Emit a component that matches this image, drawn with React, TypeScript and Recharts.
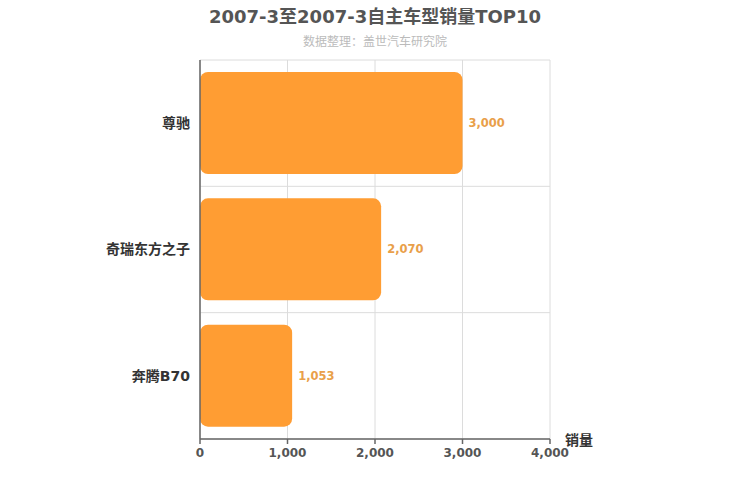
import React from 'react';
import { Bar, BarChart, CartesianGrid, LabelList, XAxis, YAxis, Label } from 'recharts';

const models = ['尊驰', '奇瑞东方之子', '奔腾B70'];
const sales = [3000, 2070, 1053];
const xTicks = [0, 1000, 2000, 3000, 4000];
const bandEdges = [0, 1, 2, 3];

const data = models.map((name, i) => ({ name, value: sales[i] }));

const font = '"DejaVu Sans", "Noto Sans CJK SC", sans-serif';
const fmt = (v: number) => v.toLocaleString('en-US');

export default function App() {
  return (
    <div style={{ position: 'absolute', left: 0, top: 0, width: 750, height: 500, background: '#fff', fontFamily: font }}>
      <div style={{ position: 'absolute', top: 2, width: 750, textAlign: 'center', fontSize: 18, fontWeight: 'bold', color: '#555' }}>
        2007-3至2007-3自主车型销量TOP10
      </div>
      <div style={{ position: 'absolute', top: 32, width: 750, textAlign: 'center', fontSize: 12, color: '#bbb' }}>
        数据整理：盖世汽车研究院
      </div>
      <BarChart
        width={750}
        height={500}
        data={data}
        layout="vertical"
        barCategoryGap="9.5%"
        margin={{ top: 60, right: 200, left: 49, bottom: 31 }}
      >
        <CartesianGrid
          yAxisId="names"
          stroke="#dcdcdc"
          horizontalCoordinatesGenerator={({ offset }: any) =>
            bandEdges.map((e) => offset.top + (offset.height * e) / (bandEdges.length - 1))
          }
        />
        {/* boundary ticks + axis line, default id so it sits against the plot */}
        <YAxis
          type="number"
          domain={[0, 3]}
          ticks={bandEdges}
          width={1}
          tick={false}
          tickSize={5}
          stroke="#666"
          strokeWidth={1.5}
        />
        <YAxis
          yAxisId="names"
          type="category"
          dataKey="name"
          width={150}
          axisLine={false}
          tickLine={false}
          tickMargin={3}
          tick={{ fill: '#333', fontSize: 14, fontWeight: 'bold', fontFamily: font }}
        />
        <Bar yAxisId="names" dataKey="value" fill="#FF9D33" radius={8} isAnimationActive={false}>
          <LabelList
            dataKey="value"
            position="right"
            offset={6}
            formatter={(v: any) => fmt(Number(v))}
            style={{ fill: '#E9A04A', fontSize: 11.5, fontWeight: 'bold', fontFamily: font }}
          />
        </Bar>
        <XAxis
          type="number"
          domain={[0, 4000]}
          ticks={xTicks}
          tickFormatter={fmt}
          stroke="#666"
          strokeWidth={1.5}
          tickSize={5}
          tickMargin={4}
          height={30}
          tick={{ fill: '#555', fontSize: 12, fontWeight: 'bold', fontFamily: font }}
        >
          <Label
            value="销量"
            position="right"
            offset={15}
            dy={-14}
            style={{ fill: '#333', fontSize: 14, fontWeight: 'bold', fontFamily: font }}
          />
        </XAxis>
      </BarChart>
    </div>
  );
}
